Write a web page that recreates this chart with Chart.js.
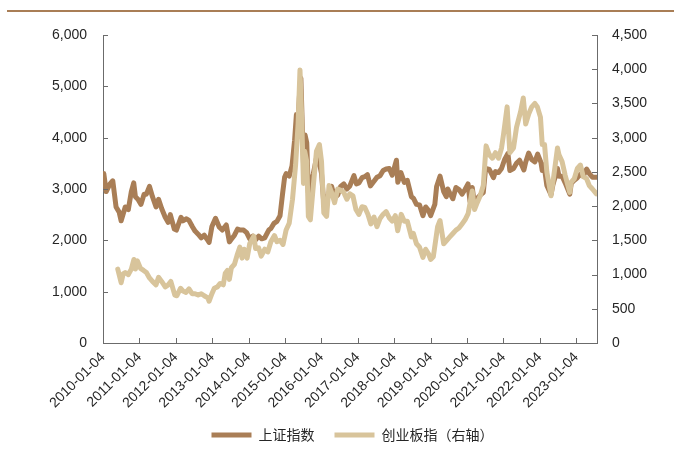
<!DOCTYPE html>
<html>
<head>
    <meta charset="utf-8">
    <title>上证指数与创业板指</title>
    <style>
        body {
            margin: 0;
            padding: 0;
            background-color: #ffffff;
        }

        .container {
            width: 681px;
            height: 452px;
            position: relative;
        }
    </style>
    <script src="https://cdn.jsdelivr.net/npm/chart.js"></script>
</head>
<body>
    <div class="container">
        <canvas id="indexChart" width="681" height="452"></canvas>
    </div>

    <script>
        // 上证指数
        const shDates = [
            '2010-01-04', '2010-01-12', '2010-02-05', '2010-03-15', '2010-04-12', '2010-05-15', '2010-06-15', '2010-07-05',
            '2010-08-15', '2010-09-15', '2010-10-15', '2010-11-08', '2010-11-25', '2010-12-20',
            '2011-01-20', '2011-02-20', '2011-03-15', '2011-04-15', '2011-05-15', '2011-06-20', '2011-07-15', '2011-08-15',
            '2011-09-20', '2011-10-20', '2011-11-10', '2011-12-20',
            '2012-01-10', '2012-02-25', '2012-03-15', '2012-04-20', '2012-05-15', '2012-06-20', '2012-07-15', '2012-08-15',
            '2012-09-15', '2012-10-15', '2012-11-20', '2012-12-03', '2012-12-31',
            '2013-02-06', '2013-03-15', '2013-04-15', '2013-05-25', '2013-06-25', '2013-07-15', '2013-08-15', '2013-09-15',
            '2013-10-15', '2013-11-15', '2013-12-15',
            '2014-01-15', '2014-02-15', '2014-03-15', '2014-04-15', '2014-05-15', '2014-06-15', '2014-07-25', '2014-08-15',
            '2014-09-15', '2014-10-15', '2014-11-15', '2014-12-10', '2014-12-31',
            '2015-01-15', '2015-02-15', '2015-03-15', '2015-04-10', '2015-04-28', '2015-05-15', '2015-05-28', '2015-06-12',
            '2015-06-29', '2015-07-08', '2015-07-24', '2015-08-10', '2015-08-26', '2015-09-15', '2015-10-15', '2015-11-15',
            '2015-12-15',
            '2016-01-05', '2016-01-27', '2016-02-15', '2016-03-15', '2016-04-15', '2016-05-15', '2016-06-15', '2016-07-15',
            '2016-08-15', '2016-09-15', '2016-10-15', '2016-11-25', '2016-12-20',
            '2017-01-15', '2017-02-15', '2017-03-15', '2017-04-10', '2017-05-10', '2017-06-15', '2017-07-15', '2017-08-15',
            '2017-09-15', '2017-10-15', '2017-11-15', '2017-12-15',
            '2018-01-26', '2018-02-09', '2018-03-12', '2018-04-15', '2018-05-15', '2018-06-25', '2018-07-15', '2018-08-15',
            '2018-09-15', '2018-10-19', '2018-11-15', '2018-12-15',
            '2019-01-04', '2019-02-15', '2019-03-05', '2019-04-08', '2019-05-15', '2019-06-10', '2019-06-25', '2019-07-15',
            '2019-08-15', '2019-09-15', '2019-10-15', '2019-11-15', '2019-12-15',
            '2020-01-14', '2020-02-03', '2020-02-25', '2020-03-19', '2020-04-15', '2020-05-15', '2020-06-15', '2020-07-08',
            '2020-08-15', '2020-09-25', '2020-10-15', '2020-11-15', '2020-12-15',
            '2021-01-15', '2021-02-18', '2021-03-09', '2021-04-15', '2021-05-15', '2021-06-15', '2021-07-28', '2021-08-15',
            '2021-09-14', '2021-10-15', '2021-11-15', '2021-12-13',
            '2022-01-15', '2022-01-28', '2022-02-15', '2022-03-15', '2022-04-26', '2022-05-15', '2022-06-30', '2022-07-15',
            '2022-08-15', '2022-09-15', '2022-10-31', '2022-11-15', '2022-12-15',
            '2023-01-15', '2023-02-15', '2023-03-15', '2023-04-18', '2023-05-15', '2023-06-15', '2023-07-25'
        ];
        const shIndex = [
            3240, 3300, 2950, 3100, 3160, 2650, 2550, 2380,
            2650, 2600, 2950, 3120, 2850, 2800,
            2700, 2900, 2900, 3050, 2850, 2650, 2800, 2620,
            2450, 2350, 2500, 2220,
            2200, 2450, 2380, 2420, 2390, 2260, 2180, 2120,
            2050, 2100, 2000, 1960, 2270,
            2430, 2260, 2200, 2300, 1970, 2020, 2100, 2220,
            2200, 2200, 2150,
            2030, 2080, 2010, 2080, 2030, 2050, 2200, 2230,
            2330, 2370, 2480, 2900, 3230,
            3300, 3250, 3450, 3950, 4450, 4300, 4800, 5160,
            4050, 3510, 4050, 3900, 2930, 3100, 3300, 3600,
            3500,
            3300, 2740, 2750, 2900, 3050, 2830, 2880, 3050,
            3100, 3000, 3060, 3260, 3100,
            3120, 3220, 3240, 3280, 3060, 3150, 3230, 3260,
            3360, 3390, 3400, 3270,
            3560, 3130, 3320, 3130, 3170, 2850, 2820, 2700,
            2690, 2480, 2650, 2580,
            2480, 2700, 3050, 3250, 2950, 2850, 3000, 2920,
            2810, 3030, 2990, 2900, 2990,
            3100, 2750, 3030, 2700, 2820, 2880, 2930, 3400,
            3380, 3220, 3340, 3320, 3400,
            3570, 3690, 3360, 3400, 3500, 3560, 3370, 3520,
            3700, 3570, 3530, 3680,
            3520, 3360, 3470, 3070, 2890, 3080, 3400, 3250,
            3250, 3120, 2900, 3110, 3170,
            3220, 3290, 3250, 3390, 3300, 3230, 3230
        ];

        // 创业板指（右轴）
        const cyDates = [
            '2010-06-01', '2010-06-15', '2010-07-05', '2010-07-25', '2010-08-15', '2010-09-15', '2010-10-15', '2010-11-10',
            '2010-11-25', '2010-12-15',
            '2011-01-15', '2011-02-15', '2011-03-15', '2011-04-15', '2011-05-15', '2011-06-20', '2011-07-15', '2011-08-15',
            '2011-09-20', '2011-10-20', '2011-11-15', '2011-12-25',
            '2012-01-15', '2012-02-20', '2012-03-15', '2012-04-15', '2012-05-15', '2012-06-15', '2012-07-15', '2012-08-15',
            '2012-09-15', '2012-10-15', '2012-11-20', '2012-12-03', '2012-12-31',
            '2013-01-25', '2013-02-25', '2013-03-25', '2013-04-25', '2013-05-15', '2013-06-05', '2013-06-25', '2013-07-15',
            '2013-08-15', '2013-09-10', '2013-10-08', '2013-10-30', '2013-11-20', '2013-12-20',
            '2014-01-15', '2014-02-25', '2014-03-15', '2014-04-15', '2014-05-10', '2014-06-15', '2014-07-15', '2014-08-15',
            '2014-09-20', '2014-10-15', '2014-11-15', '2014-12-15',
            '2015-01-15', '2015-02-15', '2015-03-20', '2015-04-20', '2015-05-15', '2015-06-03', '2015-06-20', '2015-07-08',
            '2015-07-20', '2015-08-10', '2015-08-26', '2015-09-15', '2015-10-15', '2015-11-15', '2015-12-15',
            '2016-01-05', '2016-01-28', '2016-02-25', '2016-03-20', '2016-04-15', '2016-05-15', '2016-06-15', '2016-07-15',
            '2016-08-15', '2016-09-15', '2016-10-15', '2016-11-15', '2016-12-15',
            '2017-01-15', '2017-02-15', '2017-03-15', '2017-04-15', '2017-05-15', '2017-06-15', '2017-07-15', '2017-08-15',
            '2017-09-15', '2017-10-15', '2017-11-15', '2017-12-15',
            '2018-01-15', '2018-02-08', '2018-03-15', '2018-04-15', '2018-05-15', '2018-06-25', '2018-07-15', '2018-08-15',
            '2018-09-15', '2018-10-19', '2018-11-15', '2018-12-15',
            '2019-01-04', '2019-01-31', '2019-03-15', '2019-04-08', '2019-05-15', '2019-06-15', '2019-07-15', '2019-08-15',
            '2019-09-15', '2019-10-15', '2019-11-15', '2019-12-15',
            '2020-01-15', '2020-02-25', '2020-03-19', '2020-04-15', '2020-05-15', '2020-06-15', '2020-07-13', '2020-08-15',
            '2020-09-15', '2020-10-15', '2020-11-15', '2020-12-15',
            '2021-01-05', '2021-02-10', '2021-03-09', '2021-04-15', '2021-05-15', '2021-06-25', '2021-07-22', '2021-08-15',
            '2021-09-15', '2021-10-15', '2021-11-15', '2021-12-10',
            '2022-01-10', '2022-01-28', '2022-02-20', '2022-03-15', '2022-04-26', '2022-05-20', '2022-06-30', '2022-07-15',
            '2022-08-15', '2022-09-15', '2022-10-31', '2022-11-15', '2022-12-15',
            '2023-01-15', '2023-02-15', '2023-03-15', '2023-04-18', '2023-05-15', '2023-06-15', '2023-07-25'
        ];
        const cyIndex = [
            1080, 1000, 880, 1010, 1030, 1000, 1080, 1220,
            1080, 1200,
            1090, 1060, 1030, 950, 900, 850, 960, 900,
            820, 850, 900, 700,
            690, 800, 760, 740, 790, 720, 720, 700,
            720, 690, 660, 610, 720,
            800, 820, 870, 850, 1020, 1060, 930, 1100,
            1150, 1280, 1400, 1240, 1370, 1240,
            1450, 1560, 1380, 1390, 1270, 1370, 1330, 1480,
            1570, 1480, 1500, 1440,
            1650, 1750, 2100, 2600, 3200, 3990, 3300, 2330,
            2800, 2650, 1850, 1800, 2300, 2800, 2900,
            2650, 1900, 1850, 2300, 2200, 2050, 2250, 2230,
            2200, 2100, 2180, 2150, 1950,
            1880, 1990, 1980, 1880, 1740, 1840, 1700, 1820,
            1880, 1920, 1830, 1780,
            1860, 1640, 1880, 1780, 1780, 1550, 1600, 1450,
            1400, 1250, 1370, 1300,
            1220, 1260, 1700, 1790, 1450, 1500, 1550, 1600,
            1650, 1680, 1740, 1800,
            1890, 2220, 1950, 2050, 2150, 2300, 2880, 2750,
            2700, 2780, 2700, 2850,
            3050, 3450, 2780, 2850, 3150, 3380, 3580, 3200,
            3350, 3450, 3500, 3450,
            3300, 2900, 2900, 2500, 2150, 2400, 2850, 2750,
            2650, 2450, 2200, 2350, 2400,
            2550, 2600, 2430, 2400, 2300, 2250, 2180
        ];

        const yearTicks = [
            '2010-01-04', '2011-01-04', '2012-01-04', '2013-01-04', '2014-01-04', '2015-01-04', '2016-01-04',
            '2017-01-04', '2018-01-04', '2019-01-04', '2020-01-04', '2021-01-04', '2022-01-04', '2023-01-04'
        ];

        const BROWN = '#a97e56';
        const SAND = '#d8c49b';
        const AXIS = '#6b6b6b';
        const TEXT = '#262626';

        // position on the time axis: years counted from each year's first trading day (01-04)
        function yearPos(s) {
            const [y, m, d] = s.split('-').map(Number);
            return y + (Date.UTC(y, m - 1, d) - Date.UTC(y, 0, 4)) / (365 * 86400000);
        }

        function toPoints(dates, values) {
            return dates.map((d, i) => ({ x: yearPos(d), y: values[i] }));
        }

        // inward tick marks on all three axes plus the rule at the top
        const innerTicks = {
            id: 'innerTicks',
            afterDraw(chart) {
                const { ctx, chartArea: a, scales } = chart;
                ctx.save();
                ctx.strokeStyle = AXIS;
                ctx.lineWidth = 1;
                ctx.beginPath();
                scales.y.ticks.forEach(t => {
                    const py = Math.round(scales.y.getPixelForValue(t.value)) + 0.5;
                    ctx.moveTo(a.left, py);
                    ctx.lineTo(a.left + 5, py);
                });
                scales.y2.ticks.forEach(t => {
                    const py = Math.round(scales.y2.getPixelForValue(t.value)) + 0.5;
                    ctx.moveTo(a.right - 5, py);
                    ctx.lineTo(a.right, py);
                });
                scales.x.ticks.forEach(t => {
                    const px = Math.round(scales.x.getPixelForValue(t.value)) + 0.5;
                    ctx.moveTo(px, a.bottom);
                    ctx.lineTo(px, a.bottom - 5);
                });
                ctx.stroke();

                ctx.strokeStyle = BROWN;
                ctx.lineWidth = 2;
                ctx.beginPath();
                ctx.moveTo(7, 11);
                ctx.lineTo(674, 11);
                ctx.stroke();
                ctx.restore();
            }
        };

        const tickFont = { family: "'Liberation Sans', Arial, sans-serif", size: 14 };

        new Chart(document.getElementById('indexChart'), {
            type: 'line',
            data: {
                datasets: [
                    {
                        label: '上证指数',
                        data: toPoints(shDates, shIndex),
                        borderColor: BROWN,
                        backgroundColor: BROWN,
                        borderWidth: 5,
                        yAxisID: 'y',
                        order: 1
                    },
                    {
                        label: '创业板指（右轴）',
                        data: toPoints(cyDates, cyIndex),
                        borderColor: SAND,
                        backgroundColor: SAND,
                        borderWidth: 5,
                        yAxisID: 'y2',
                        order: 0
                    }
                ]
            },
            options: {
                responsive: false,
                animation: false,
                elements: {
                    point: { radius: 0 },
                    line: { tension: 0, borderJoinStyle: 'round', borderCapStyle: 'round' }
                },
                layout: {
                    padding: { top: 35, left: 24, right: 0, bottom: 0 }
                },
                plugins: {
                    tooltip: { enabled: false },
                    legend: {
                        position: 'bottom',
                        labels: {
                            usePointStyle: true,
                            pointStyle: 'line',
                            pointStyleWidth: 40,
                            padding: 20,
                            color: TEXT,
                            font: { family: "'Noto Sans CJK SC', sans-serif", size: 14 },
                            sort: (a, b) => a.datasetIndex - b.datasetIndex
                        }
                    }
                },
                scales: {
                    x: {
                        type: 'linear',
                        min: 2010,
                        max: 2023.57,
                        afterFit: s => { s.height = 65; },
                        grid: { display: false, drawTicks: false },
                        border: { color: AXIS },
                        ticks: {
                            stepSize: 1,
                            includeBounds: false,
                            autoSkip: false,
                            minRotation: 45,
                            maxRotation: 45,
                            padding: 6,
                            color: TEXT,
                            font: tickFont,
                            callback: v => yearTicks[Math.round(v) - 2010]
                        }
                    },
                    y: {
                        position: 'left',
                        min: 0,
                        max: 6000,
                        afterFit: s => { s.width = 79; },
                        grid: { display: false, drawTicks: false },
                        border: { color: AXIS },
                        ticks: {
                            stepSize: 1000,
                            padding: 16,
                            color: TEXT,
                            font: tickFont,
                            callback: v => v.toLocaleString('en-US')
                        }
                    },
                    y2: {
                        position: 'right',
                        min: 0,
                        max: 4500,
                        afterFit: s => { s.width = 84; },
                        grid: { display: false, drawTicks: false },
                        border: { color: AXIS },
                        ticks: {
                            stepSize: 500,
                            padding: 15,
                            color: TEXT,
                            font: tickFont,
                            callback: v => v.toLocaleString('en-US')
                        }
                    }
                }
            },
            plugins: [innerTicks]
        });
    </script>
</body>
</html>
